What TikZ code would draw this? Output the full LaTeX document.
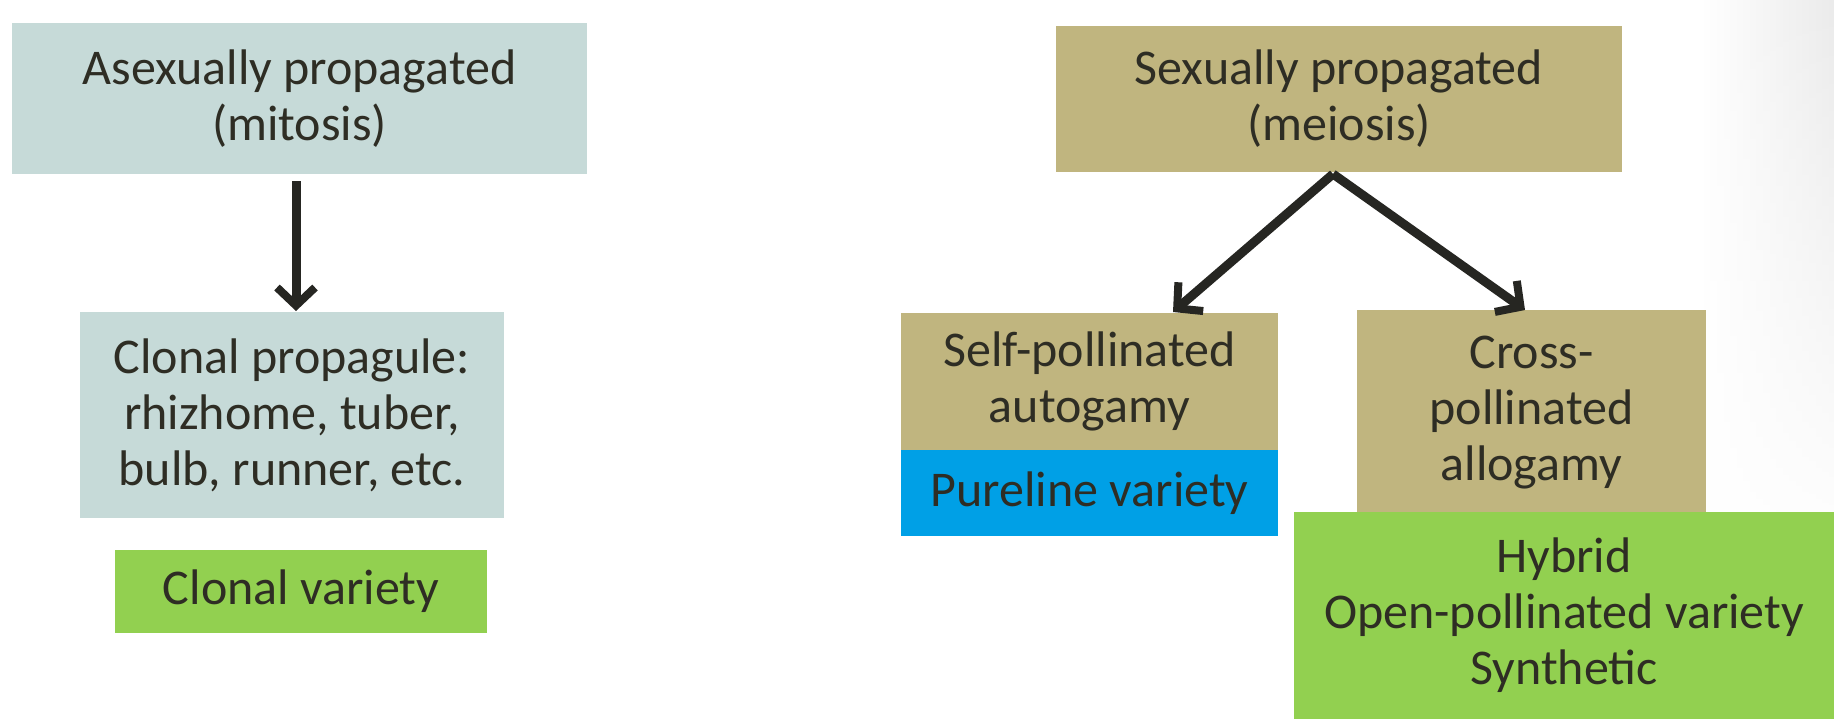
\documentclass[tikz,border=0pt]{standalone}
\usepackage{fontspec}
\setmainfont{Carlito}
\usetikzlibrary{arrows.meta,fadings}
\definecolor{greyblue}{HTML}{C6DAD8}
\definecolor{tan}{HTML}{C0B57F}
\definecolor{leaf}{HTML}{92D050}
\definecolor{sky}{HTML}{00A0E6}
\definecolor{ink}{HTML}{2E2D24}
\definecolor{arrowc}{HTML}{262622}
\tikzset{
  box/.style={inner sep=0pt, align=center, text=ink, font=\fontsize{25}{28}\selectfont},
  conn/.style={draw=arrowc, line width=4.5pt, -{Straight Barb[length=9pt,width=19pt,line width=4pt]}}
}
\begin{document}
\begin{tikzpicture}[x=0.5pt,y=-0.5pt]
\useasboundingbox (0,0) rectangle (1834,724);
\fill[white] (0,0) rectangle (1834,724);
\shade[left color=white, right color=black!8, path fading=south] (1700,0) rectangle (1834,560);
% left
\node[box, fill=greyblue, minimum width=287.5pt, minimum height=75.5pt] (asex) at (299.5,98.5) {Asexually propagated\\(mitosis)};
\node[box, fill=greyblue, minimum width=212pt, minimum height=103pt] (clprop) at (292,415) {Clonal propagule:\\rhizhome, tuber,\\bulb, runner, etc.};
\node[box, fill=leaf, minimum width=186pt, minimum height=41.5pt] (clvar) at (301,591.5) {Clonal variety};
% right
\node[box, fill=tan, minimum width=283pt, minimum height=73pt] (sex) at (1339,99) {Sexually propagated\\(meiosis)};
\node[box, fill=tan, minimum width=188.5pt, minimum height=68.5pt] (self) at (1089.5,381.5) {Self-pollinated\\autogamy};
\node[box, fill=sky, minimum width=188.5pt, minimum height=43pt] (pure) at (1089.5,493) {Pureline variety};
\node[box, fill=tan, minimum width=174.5pt, minimum height=102.5pt] (cross) at (1531.5,412.5) {Cross-\\pollinated\\allogamy};
\node[box, fill=leaf, minimum width=270pt, minimum height=103.5pt] (hyb) at (1564,615.5) {Hybrid\\Open-pollinated variety\\Synthetic};
% connectors
\coordinate (asexs) at (296,181);
\coordinate (clpropn) at (296,311);
\draw[conn] (asexs) -- (clpropn);
\coordinate (sexs) at (1333,174);
\coordinate (selfn) at (1173,312);
\coordinate (crossn) at (1525,310);
\draw[conn] (sexs) -- (selfn);
\draw[conn] (sexs) -- (crossn);
\end{tikzpicture}
\end{document}
